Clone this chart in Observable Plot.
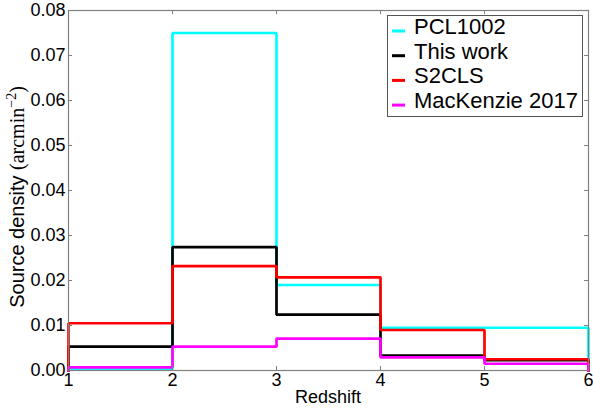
<!DOCTYPE html>
<html>
<head>
<meta charset="utf-8">
<script src="https://cdn.jsdelivr.net/npm/d3@7"></script>
<script src="https://cdn.jsdelivr.net/npm/@observablehq/plot@0.6"></script>
<style>
  html, body { margin: 0; padding: 0; background: #fff; }
</style>
</head>
<body>
<div id="chart"></div>
<script>
const binEdges = [1, 2, 3, 4, 5, 6];
const seriesNames = ["PCL1002", "This work", "S2CLS", "MacKenzie 2017"];
const seriesColors = ["#00ffff", "#000000", "#ff0000", "#ff00ff"];
const pcl1002 = [0.0003, 0.075, 0.0190, 0.0095, 0.0095];
const thisWork = [0.0053, 0.0274, 0.0124, 0.0033, 0.0023];
const s2cls = [0.0105, 0.0232, 0.0207, 0.0090, 0.0025];
const mackenzie2017 = [0.0007, 0.0053, 0.0071, 0.0029, 0.0015];
const xTicks = [1, 2, 3, 4, 5, 6];
const yTicks = [0, 0.01, 0.02, 0.03, 0.04, 0.05, 0.06, 0.07, 0.08];

const allSeries = [pcl1002, thisWork, s2cls, mackenzie2017];
const rows = [];
allSeries.forEach((vals, s) => {
  const name = seriesNames[s];
  rows.push({series: name, x: binEdges[0], y: 0});
  vals.forEach((v, i) => rows.push({series: name, x: binEdges[i], y: v}));
  rows.push({series: name, x: binEdges[binEdges.length - 1], y: vals[vals.length - 1]});
  rows.push({series: name, x: binEdges[binEdges.length - 1], y: 0});
});

const W = 593, H = 412, mt = 10, mb = 42, ml = 68, mr = 5;
const innerH = H - mt - mb, innerW = W - ml - mr;
const tl = 4;
const font = "'Liberation Sans', Arial, sans-serif";

const plot = Plot.plot({
  width: W, height: H,
  marginTop: mt, marginBottom: mb, marginLeft: ml, marginRight: mr,
  style: {fontFamily: font, fontSize: "18px", background: "#fff"},
  x: {domain: [1, 6], label: null},
  y: {domain: [0, 0.08], label: null},
  color: {domain: seriesNames, range: seriesColors},
  marks: [
    Plot.line(rows, {x: "x", y: "y", z: "series", stroke: "series", curve: "step-after", strokeWidth: 2.7, strokeLinejoin: "miter", strokeLinecap: "square"}),
    Plot.frame({stroke: "#808080", strokeWidth: 1.2}),
    Plot.tickX(xTicks, {x: d => d, insetTop: innerH - tl, stroke: "#808080"}),
    Plot.tickX(xTicks, {x: d => d, insetBottom: innerH - tl, stroke: "#808080"}),
    Plot.tickY(yTicks, {y: d => d, insetRight: innerW - tl, stroke: "#808080"}),
    Plot.tickY(yTicks, {y: d => d, insetLeft: innerW - tl, stroke: "#808080"}),
    Plot.axisX(xTicks, {tickSize: 0, tickPadding: 3, fontSize: 18, fill: "#000"}),
    Plot.axisY(yTicks, {tickSize: 0, tickPadding: 3, tickFormat: d3.format(".2f"), fontSize: 18, fill: "#000"})
  ]
});
document.getElementById("chart").appendChild(plot);

const svg = d3.select(plot);
svg.append("text")
  .attr("x", ml + innerW / 2).attr("y", 403)
  .attr("text-anchor", "middle")
  .style("font-size", "18px").attr("fill", "#000")
  .text("Redshift");
const yl = svg.append("text")
  .attr("transform", `translate(24,197) rotate(-90)`)
  .attr("text-anchor", "middle")
  .style("font-size", "20px").attr("fill", "#000");
yl.append("tspan").text("Source density ");
yl.append("tspan").style("font-family", "'Liberation Serif', serif").text("(arcmin");
yl.append("tspan").style("font-family", "'Liberation Serif', serif").style("font-size", "14px").attr("dy", "-8").text("\u22122");
yl.append("tspan").style("font-family", "'Liberation Serif', serif").attr("dy", "8").text(")");

// legend
const lg = svg.append("g");
lg.append("rect").attr("x", 387.5).attr("y", 15.5).attr("width", 195).attr("height", 101)
  .attr("fill", "#fff").attr("stroke", "#555").attr("stroke-width", 1);
seriesNames.forEach((n, i) => {
  const base = 34 + 24.7 * i;
  lg.append("line").attr("x1", 392).attr("x2", 405).attr("y1", base - 3).attr("y2", base - 3)
    .attr("stroke", seriesColors[i]).attr("stroke-width", 3);
  lg.append("text").attr("x", 414).attr("y", base).attr("text-anchor", "start")
    .style("font-size", "22px").attr("fill", "#000").text(n);
});
</script>
</body>
</html>
